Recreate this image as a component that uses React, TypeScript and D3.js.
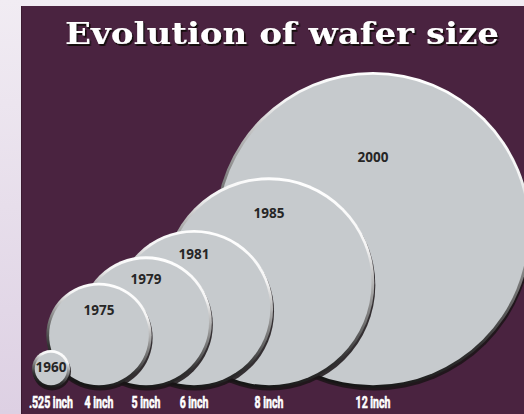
import React from 'react';
import * as d3 from 'd3';

// ---- data ----
const years: string[] = ['1960', '1975', '1979', '1981', '1985', '2000'];
const sizes: number[] = [0.525, 4, 5, 6, 8, 12];
const sizeLabels: string[] = ['.525 inch', '4 inch', '5 inch', '6 inch', '8 inch', '12 inch'];
const title = 'Evolution of wafer size';

// ---- layout ----
const W = 524;
const H = 414;
const PANEL_X = 21;
const PANEL_Y = 6;
const BASELINE = 388;
const MIN_R = 19;
const centerFrac = [0.0596, 0.155, 0.2485, 0.344, 0.493, 0.6998];
const labelLift = [0.1, 0.48, 0.66, 0.7, 0.66, 0.46];

export default function App() {
  const r = d3.scaleLinear().domain([0, 12]).range([0, 158]);
  const x = d3.scaleLinear().domain([0, 1]).range([PANEL_X, W]);

  const items = years.map((y, i) => {
    const rad = Math.max(r(sizes[i]), MIN_R);
    return {
      year: y,
      label: sizeLabels[i],
      cx: x(centerFrac[i]),
      cy: BASELINE - rad,
      r: rad,
      lift: labelLift[i],
    };
  });
  const drawOrder = [...items].sort((a, b) => b.r - a.r);

  return (
    <svg width={W} height={H} style={{ position: 'absolute', left: 0, top: 0 }}>
      <defs>
        <linearGradient id="bg" x1="0" y1="0" x2="0" y2="1">
          <stop offset="0" stopColor="#f1ecf3" />
          <stop offset="1" stopColor="#ddd0e3" />
        </linearGradient>
        <linearGradient id="rim" x1="0.3" y1="1" x2="0.62" y2="0">
          <stop offset="0" stopColor="#111" />
          <stop offset="0.28" stopColor="#333" />
          <stop offset="0.55" stopColor="#8a8a8a" />
          <stop offset="0.8" stopColor="#f4f4f4" />
          <stop offset="1" stopColor="#ffffff" />
        </linearGradient>
        <filter id="tshadow" x="-5%" y="-20%" width="110%" height="150%">
          <feDropShadow dx={1.5} dy={2} stdDeviation={0.4} floodColor="#140910" floodOpacity={1} />
        </filter>
      </defs>
      <rect x={0} y={0} width={W} height={H} fill="url(#bg)" />
      <rect x={PANEL_X} y={PANEL_Y} width={W - PANEL_X} height={H - PANEL_Y} fill="#4a2340" />
      <line x1={PANEL_X + 0.5} y1={PANEL_Y} x2={PANEL_X + 0.5} y2={H} stroke="#3a1a30" strokeWidth={1} />

      {drawOrder.map((d) => (
        <g key={d.year}>
          <circle cx={d.cx + 1} cy={d.cy + 2.5} r={d.r} fill="#1a1416" opacity={0.85} />
          <circle cx={d.cx} cy={d.cy} r={d.r} fill="url(#rim)" />
          <circle cx={d.cx} cy={d.cy} r={d.r - 2.8} fill="#c6cacd" />
        </g>
      ))}

      {items.map((d) => (
        <text
          key={'y' + d.year}
          x={d.cx}
          y={d.cy - d.lift * d.r}
          textAnchor="middle"
          dominantBaseline="central"
          fontFamily="'Open Sans', sans-serif"
          fontWeight={700}
          fontSize={13.5}
          fill="#262626"
        >
          {d.year}
        </text>
      ))}

      {items.map((d) => (
        <text
          key={'s' + d.year}
          transform={`translate(${d.cx},408) scale(0.64,1)`}
          textAnchor="middle"
          fontFamily="Roboto, sans-serif"
          fontWeight={700}
          fontSize={16.5}
          fill="#ffffff"
          stroke="#ffffff"
          strokeWidth={0.6}
        >
          {d.label}
        </text>
      ))}

      <text
        x={282}
        y={44}
        textAnchor="middle"
        fontFamily="'DejaVu Serif', serif"
        fontWeight={700}
        fontSize={30}
        textLength={434}
        lengthAdjust="spacingAndGlyphs"
        fill="#ffffff"
        filter="url(#tshadow)"
      >
        {title}
      </text>
    </svg>
  );
}
